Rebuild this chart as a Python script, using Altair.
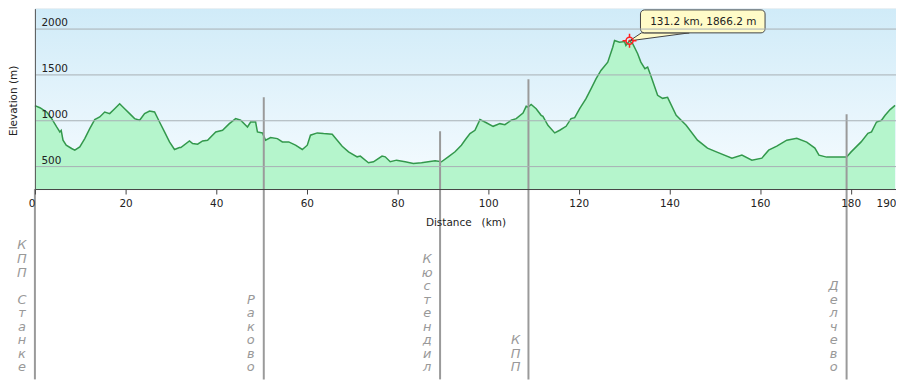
import altair as alt
import pandas as pd

# ---- data ----
km = [0, 1.1, 2.6, 3.7, 4.8, 5.5, 5.8, 6.2, 6.9, 8.1, 8.8, 9.9, 11.0, 12.1, 13.2, 14.3,
      15.4, 16.5, 17.6, 18.7, 19.8, 20.9, 22.0, 23.1, 24.2, 25.3, 26.4, 27.5, 28.6, 29.7,
      30.8, 31.9, 32.2, 34.1, 34.8, 35.9, 37.0, 38.1, 39.9, 41.4, 42.9, 44.3, 45.4, 46.9,
      47.6, 48.7, 49.1, 50.2, 50.9, 52.0, 53.5, 54.6, 56.0, 57.5, 59.0, 60.1, 60.8, 62.3,
      63.7, 65.6, 66.7, 67.8, 69.2, 71.1, 71.8, 73.6, 74.7, 76.6, 77.3, 78.4, 79.8, 81.7,
      83.5, 85.3, 86.8, 88.3, 89.7, 91.2, 92.7, 94.1, 95.0, 96.0, 97.1, 98.2, 99.3, 101.1,
      102.6, 103.7, 105.1, 106.2, 107.7, 108.4, 108.8, 109.5, 110.6, 111.7, 112.1, 113.2,
      114.7, 115.8, 117.2, 118.3, 119.1, 120.2, 121.6, 122.7, 123.8, 124.9, 126.4, 127.5,
      127.9, 129.0, 130.1, 130.4, 131.2, 131.9, 133.0, 133.7, 134.6, 135.2, 136.0, 137.4,
      138.5, 139.6, 141.5, 143.7, 146.2, 148.4, 150.5, 153.8, 156.0, 158.2, 160.4, 161.9,
      163.7, 165.9, 168.1, 170.3, 172.1, 173.0, 174.7, 178.0, 179.1, 180.1, 182.3, 183.8,
      184.6, 185.7, 186.8, 187.6, 188.7, 189.8]
elev = [1160, 1137, 1090, 1018, 927, 873, 890, 782, 728, 692, 674, 710, 800, 909, 1007, 1036,
        1090, 1072, 1126, 1180, 1126, 1072, 1018, 1000, 1072, 1101, 1090, 981, 873, 764,
        681, 703, 703, 775, 746, 739, 775, 782, 873, 891, 963, 1018, 1000, 927,
        981, 981, 873, 862, 782, 811, 800, 764, 764, 728, 681, 728, 837, 862,
        855, 848, 782, 717, 656, 601, 609, 536, 547, 609, 601, 547, 565, 547,
        529, 536, 547, 558, 547, 601, 656, 728, 790, 855, 891, 1007, 981, 934,
        963, 952, 1000, 1018, 1079, 1152, 1144, 1173, 1126, 1054, 1043, 945,
        862, 891, 934, 1018, 1029, 1126, 1235, 1343, 1452, 1543, 1633, 1796,
        1870, 1851, 1858, 1815, 1866, 1834, 1725, 1634, 1562, 1580, 1471, 1272,
        1239, 1250, 1054, 946, 783, 696, 652, 587, 620, 565, 587, 674,
        717, 783, 804, 761, 696, 620, 598, 598, 600, 655, 764, 858,
        873, 981, 1000, 1054, 1116, 1163]

x_ticks = [0, 20, 40, 60, 80, 100, 120, 140, 160, 180, 190]
y_ticks = [500, 750, 1000, 1250, 1500, 1750, 2000]

wp_km = [0, 50.5, 89.4, 108.9, 179.1]
wp_top = [250, 1250, 880, 1446, 1065]
wp_name = ["КПП Станке", "Раково", "Кюстендил", "КПП", "Делчево"]

peak_km = [131.2]
peak_elev = [1866.2]
peak_label = ["131.2 km, 1866.2 m"]

# ---- layout ----
W, H = 864, 181
FONT = "DejaVu Sans"
LH = 13.6

# each word of a waypoint name is written as a vertical column of letters;
# "below" counts the letter lines that sit underneath that word
lab_km, lab_text, lab_n, lab_below = [], [], [], []
for k, name in zip(wp_km, wp_name):
    words = name.split(" ")
    below = 0
    for w in reversed(words):
        lab_km.append(k)
        lab_text.append("\n".join(w))
        lab_n.append(len(w))
        lab_below.append(below)
        below += len(w) + 1

profile = pd.DataFrame({"km": km, "elev": elev})
wps = pd.DataFrame({"km": wp_km, "top": wp_top})
labs = pd.DataFrame({"km": lab_km, "label": lab_text, "n": lab_n, "below": lab_below})
peak = pd.DataFrame({"km": peak_km, "elev": peak_elev, "label": peak_label})
one = pd.DataFrame({"a": [0]})

xscale = alt.Scale(domain=[0, 190], nice=False, zero=False)
yscale = alt.Scale(domain=[250, 2217.4], nice=False, zero=False)

xaxis = alt.Axis(values=x_ticks, title="Distance\u00a0\u00a0\u00a0(km)", grid=False, format="d",
                 domainColor="#444", tickColor="#444", tickSize=5, labelPadding=5,
                 labelFontSize=10.5, labelColor="#222", labelFont=FONT,
                 labelAlign=alt.expr("datum.value == 190 || datum.value == 0 ? 'right' : 'center'"),
                 titleFontSize=10.5, titleFontWeight="normal", titleColor="#222",
                 titleFont=FONT, titleY=34, titleBaseline="middle", zindex=1)
yaxis = alt.Axis(values=y_ticks, title="Elevation (m)", grid=True, gridColor="#a8b0b5",
                 format="d", gridWidth=1, ticks=False, tickSize=0, labelPadding=-6,
                 labelAlign="left", labelBaseline="alphabetic", labelOffset=-3,
                 labelFontSize=10.5, labelColor="#222", labelFont=FONT, domainColor="#555",
                 titleFontSize=10.5, titleFontWeight="normal", titleColor="#222",
                 titleFont=FONT, titleAngle=270, titleX=-21, titleY=92,
                 titleAlign="center", titleBaseline="middle", zindex=1)

bg = alt.Chart(one).mark_rect(
    fill=alt.LinearGradient(gradient="linear", x1=0, x2=0, y1=0, y2=1,
                            stops=[alt.GradientStop(color="#d0ebf8", offset=0),
                                   alt.GradientStop(color="#f7fcff", offset=1)]),
    strokeWidth=0,
).encode(x=alt.value(0), x2=alt.value(W), y=alt.value(0), y2=alt.value(H))

area = alt.Chart(profile).mark_area(
    color="#b5f5cc", opacity=1,
    line=alt.OverlayMarkDef(color="#33984c", strokeWidth=1.5),
).encode(
    x=alt.X("km:Q", scale=xscale, axis=xaxis),
    y=alt.Y("elev:Q", scale=yscale, axis=yaxis),
    y2=alt.datum(250),
)

rules = alt.Chart(wps).mark_rule(color="#9a9a9a", strokeWidth=2).encode(
    x=alt.X("km:Q", scale=xscale),
    y=alt.Y("top:Q", scale=yscale),
    y2=alt.value(372),
)

labels = alt.Chart(labs).mark_text(
    font=FONT, fontSize=13, fontStyle="italic", color="#999999", align="center",
    baseline="alphabetic", lineBreak="\n", lineHeight=LH, dx=-13,
    dy=alt.expr(f"-{LH} * (datum.n - 1 + datum.below)"),
).encode(x=alt.X("km:Q", scale=xscale), y=alt.value(364), text="label:N")

pointer = alt.Chart(peak).mark_point(
    shape="M0,0L12,-8L60,-8Z", size=4, filled=True, fill="#fffbc8",
    stroke="#444", strokeWidth=1, opacity=1,
).encode(x=alt.X("km:Q", scale=xscale), y=alt.Y("elev:Q", scale=yscale))

box = alt.Chart(peak).mark_rect(
    xOffset=11, x2Offset=136, yOffset=-31, y2Offset=-8, cornerRadius=4,
    fill="#fffbc8", stroke="#444", strokeWidth=1,
).encode(x=alt.X("km:Q", scale=xscale), x2="km:Q",
         y=alt.Y("elev:Q", scale=yscale), y2="elev:Q")

tip = alt.Chart(peak).mark_text(
    font=FONT, fontSize=10.5, color="#222", align="center", baseline="middle",
    dx=74, dy=-19,
).encode(x=alt.X("km:Q", scale=xscale), y=alt.Y("elev:Q", scale=yscale), text="label:N")

ring = alt.Chart(peak).mark_point(
    shape="circle", size=50, filled=False, stroke="#ff2020", strokeWidth=1.5, opacity=1,
).encode(x=alt.X("km:Q", scale=xscale), y=alt.Y("elev:Q", scale=yscale))

cross = alt.Chart(peak).mark_point(
    shape="M-7,0L-3,0M3,0L7,0M0,-7L0,-3M0,3L0,7M-1,0L1,0M0,-1L0,1", size=4,
    filled=False, stroke="#ff2020", strokeWidth=1.5, opacity=1,
).encode(x=alt.X("km:Q", scale=xscale), y=alt.Y("elev:Q", scale=yscale))

chart = alt.layer(bg, area, rules, labels, pointer, box, tip, ring, cross).properties(
    width=W, height=H,
    autosize=alt.AutoSizeParams(type="none"),
    padding={"left": 27, "top": 0, "right": 0, "bottom": 195},
).configure_view(strokeWidth=0).configure(font=FONT)

chart.save("out.html", embed_options={"renderer": "svg", "actions": False})
